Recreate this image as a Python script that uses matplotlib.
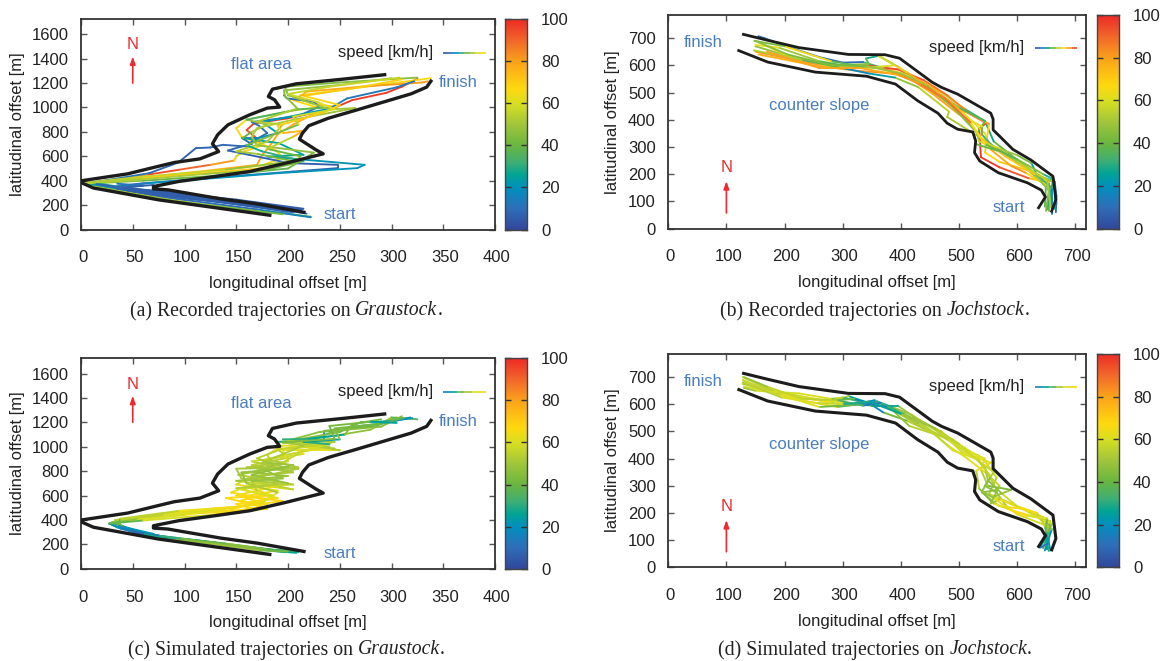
import matplotlib
matplotlib.use("Agg")
import matplotlib.pyplot as plt
import numpy as np
from matplotlib.collections import LineCollection
from matplotlib.colors import LinearSegmentedColormap, Normalize
from matplotlib.transforms import ScaledTranslation

plt.rcParams['font.family'] = ['Liberation Sans', 'DejaVu Sans']

W, H = 1166, 661
DARK = '#333333'
TXT = '#222222'
BLUE = '#4A7DC0'
RED = '#EE2A30'

speed_stops = [(0, '#33479B'), (.10, '#2F6FB7'), (.20, '#0090BE'), (.26, '#00A595'), (.32, '#3FAF75'),
               (.40, '#6BB640'), (.50, '#A2C63A'), (.60, '#D9DF22'), (.67, '#FFD90F'), (.80, '#FBA21B'),
               (.90, '#F2672A'), (1.0, '#EE2A26')]

x_ticks_gr = [0, 50, 100, 150, 200, 250, 300, 350, 400]
y_ticks_gr = [0, 200, 400, 600, 800, 1000, 1200, 1400, 1600]
x_ticks_jo = [0, 100, 200, 300, 400, 500, 600, 700]
y_ticks_jo = [0, 100, 200, 300, 400, 500, 600, 700]
cbar_ticks = [0, 20, 40, 60, 80, 100]

# piste borders (x, y)
gr_left = [(295,1270),(253,1232),(208,1194),(185,1150),(181,1090),(187,1063),(192,1003),(180,995),(163,940),(142,858),
           (132,776),(127,702),(133,639),(115,579),(90,549),(70,508),(45,456),(0,399),(0,385),(12,340),(75,243),(184,115)]
gr_right = [(339,1227),(334,1167),(319,1112),(267,981),(239,912),(220,850),(214,790),(211,740),(218,702),(227,653),
            (234,620),(198,544),(163,475),(129,434),(94,393),(70,352),(70,333),(84,325),(135,251),(170,210),(217,139)]
jo_top = [(127,715),(171,692),(225,665),(310,640),(373,639),(398,626),(454,538),(470,519),(498,494),(555,424),
          (559,402),(559,363),(593,291),(624,252),(662,192),(667,106),(659,59)]
jo_bot = [(119,656),(171,612),(253,575),(341,560),(391,531),(429,470),(464,424),(480,387),(498,365),(524,355),
          (529,322),(527,279),(536,248),(568,205),(618,168),(642,141),(649,116),(636,72)]

# recorded trajectories, Graustock (x, y, speed)
a1 = [(212,150,8),(150,232,9),(80,300,10),(30,345,14),(7,382,35),(35,415,70),(65,450,92),(95,490,96),(125,530,85),(148,565,78),(150,600,60),(158,640,55),(175,690,80),(168,760,92),(160,815,95),(167,869,97),(199,910,98),(241,984,98),(262,1060,97),(295,1120,97),(310,1170,98),(325,1235,96)]
a2 = [(222,105,25),(190,140,55),(120,205,64),(75,258,55),(25,335,62),(6,380,45),(45,410,60),(110,465,66),(175,525,68),(195,590,62),(188,650,66),(172,710,68),(155,760,70),(150,830,66),(160,900,64),(205,975,60),(228,1000,68),(205,1060,66),(212,1100,68),(275,1170,66),(338,1240,65)]
a3 = [(210,160,6),(150,240,6),(80,310,6),(25,355,20),(8,385,40),(60,428,72),(120,480,78),(170,530,75),(175,610,82),(182,680,80),(190,780,76),(205,860,78),(225,950,78),(247,1003,70),(222,1035,72),(210,1080,75),(218,1130,76),(270,1170,80),(330,1205,82),(335,1215,80)]
a4 = [(215,170,5),(150,245,5),(80,310,5),(30,350,6),(10,382,10),(40,425,14),(66,462,8),(94,549,7),(111,667,6),(125,672,7),(137,694,8),(160,680,9),(165,720,12),(180,790,10),(172,850,9),(165,880,12),(210,930,10),(230,1006,8),(225,1047,7),(199,1074,9),(196,1100,12)]
a5 = [(218,130,12),(150,225,10),(80,295,7),(25,345,8),(59,378,9),(142,434,10),(205,475,8),(248,503,6),(248,530,5),(201,544,7),(142,647,6),(155,680,9),(165,700,10),(156,746,8),(170,746,14),(190,790,20),(175,880,25),(240,990,20),(257,1074,12),(305,1165,14),(322,1215,10)]
a6 = [(222,100,20),(170,165,12),(75,270,8),(20,340,8),(66,380,20),(191,462,22),(267,503,20),(274,530,18),(180,598,25),(215,612,28),(191,708,25),(156,749,28),(165,800,50),(180,860,55),(160,900,40),(210,985,30),(240,1000,45)]
a7 = [(205,150,8),(150,220,8),(75,285,8),(20,345,30),(6,375,50),(60,400,40),(130,440,40),(200,500,35),(225,630,45),(170,690,48),(165,760,50),(170,830,55),(205,900,50),(265,995,48),(240,985,52),(200,1100,45),(197,1170,40),(250,1205,46),(325,1245,45)]
a8 = [(195,125,40),(100,222,42),(15,350,55),(7,385,50),(50,425,58),(140,490,55),(205,560,40),(170,620,45),(150,640,55),(180,720,50),(195,860,52),(170,883,55),(209,992,50),(197,1095,42),(196,1140,45),(250,1185,50),(300,1240,50)]
a9 = [(200,145,9),(80,295,8),(5,375,40),(60,420,68),(140,475,72),(185,510,70),(205,540,60),(212,600,45),(180,660,35),(205,760,75),(215,810,78),(195,790,72),(190,850,68),(235,960,72),(250,1020,66),(215,1095,70),(265,1160,72),(310,1230,66)]
a10 = [(208,160,30),(100,260,8),(40,345,10),(12,385,50),(50,405,55),(120,455,50),(180,490,48),(215,560,32),(175,640,30),(160,690,25),(210,860,60),(205,925,52),(245,985,65),(230,1040,60),(200,1110,55),(240,1170,58),(308,1245,55)]
a11 = [(214,165,6),(175,205,5),(130,255,5),(85,300,6),(50,330,6),(20,365,7)]
a12 = [(210,155,7),(170,200,6),(125,245,7),(80,290,6),(45,335,7),(15,372,9)]
a13 = [(205,140,8),(160,200,10),(110,255,9),(70,285,8),(35,335,8),(60,360,10),(35,375,12)]
a14 = [(200,155,6),(150,215,7),(105,262,6),(70,300,5),(40,345,6),(70,365,8)]
a15 = [(208,148,6),(165,190,5),(125,232,6),(90,270,7),(60,305,5)]
a16 = [(212,160,5),(180,190,7),(140,225,5),(105,250,7),(75,280,6),(45,320,6)]
rec_gr = [a1, a2, a3, a4, a5, a6, a7, a8, a9, a10, a11, a12, a13, a14, a15, a16]

# recorded trajectories, Jochstock
b1 = [(667,60,8),(668,120,8),(665,170,12),(640,190,45),(590,270,50),(560,320,30),(545,395,25),(510,440,40),(470,500,70),(420,560,80),(370,590,60),(335,612,8),(300,610,10),(260,630,10),(210,665,12),(165,700,10),(155,707,6)]
b2 = [(660,70,15),(655,170,60),(620,185,90),(570,225,95),(538,262,98),(535,368,97),(547,387,92),(520,420,85),(480,490,85),(440,545,90),(395,585,95),(340,600,96),(300,590,85),(240,610,82),(150,650,80)]
b3 = [(655,65,25),(655,170,58),(625,210,70),(570,245,72),(545,280,60),(552,385,78),(510,430,80),(470,490,82),(430,545,80),(385,570,85),(325,580,80),(250,600,78),(155,640,76)]
b4 = [(652,70,30),(662,175,30),(635,195,26),(625,240,28),(600,270,55),(560,300,42),(530,345,50),(545,395,30),(500,445,40),(450,510,55),(395,595,40),(362,635,28),(340,625,28),(345,605,48),(290,600,45),(220,625,46),(150,670,48)]
b5 = [(648,80,22),(650,160,55),(615,205,80),(590,230,85),(555,290,72),(545,350,55),(505,430,72),(460,505,78),(410,575,78),(362,635,62),(390,600,55),(338,590,65),(270,600,62),(200,640,64),(155,685,62)]
b6 = [(650,65,35),(655,140,50),(640,175,42),(605,240,60),(575,280,45),(530,310,35),(525,350,48),(480,410,55),(483,430,50),(430,520,60),(390,555,35),(345,570,14),(300,590,20),(230,620,55),(147,655,50)]
b7 = [(660,55,10),(660,150,25),(640,185,40),(590,260,42),(555,310,30),(540,345,35),(540,375,45),(500,420,80),(455,495,80),(410,560,70),(360,590,60),(300,600,30),(260,615,45),(190,665,55),(150,675,70)]
b8 = [(665,70,8),(665,170,45),(630,200,55),(580,265,88),(540,330,60),(520,380,78),(490,450,85),(450,510,90),(420,545,90),(370,590,85),(335,595,20),(280,615,55),(200,670,75),(148,690,12)]
b9 = [(658,80,40),(652,180,62),(600,245,48),(570,295,55),(535,320,62),(530,355,45),(490,445,45),(445,525,45),(400,570,52),(340,598,45),(280,600,42),(205,640,45),(150,690,45)]
b10 = [(668,90,6),(664,180,10),(645,200,50),(600,255,40),(565,290,35),(545,310,45),(520,390,88),(475,480,88),(435,530,85),(395,565,78),(330,590,78),(260,590,80),(170,650,80)]
rec_jo = [b1, b2, b3, b4, b5, b6, b7, b8, b9, b10]

# simulated trajectories, Graustock
c1 = [(205,140,10),(190,150,25),(150,195,50),(110,235,45),(70,265,30),(50,300,8),(35,340,25),(28,372,30),(40,405,50),(90,460,62),(130,495,66),(180,530,68),(155,590,66),(190,640,66),(150,690,60),(165,760,55),(205,790,50),(165,850,52),(200,910,58),(190,980,50),(225,1000,60),(245,1040,50),(205,1045,50),(245,1090,45),(280,1140,48),(300,1240,50),(325,1225,22)]
c2 = [(198,135,8),(175,165,45),(130,215,42),(85,255,20),(55,305,6),(40,350,35),(32,385,45),(70,430,60),(140,470,64),(180,570,68),(145,625,66),(165,690,58),(205,650,58),(155,740,52),(150,820,50),(210,830,52),(180,900,52),(205,945,58),(240,1000,56),(200,1030,45),(225,1070,12),(240,1110,42),(270,1170,40),(295,1195,8),(318,1240,30)]
c3 = [(200,145,22),(160,175,48),(120,225,35),(75,270,12),(50,310,10),(30,365,22),(45,395,55),(100,440,64),(145,500,66),(195,555,68),(150,600,68),(190,680,60),(150,720,52),(200,760,45),(165,790,52),(185,850,48),(180,935,60),(195,1010,68),(245,985,55),(190,1040,50),(235,1060,8),(235,1130,38),(285,1170,42),(305,1240,40)]
c4 = [(210,135,14),(165,170,52),(125,215,48),(80,262,30),(45,320,12),(38,360,40),(35,395,50),(85,450,62),(135,465,66),(180,490,62),(155,560,66),(180,615,68),(160,670,58),(205,690,56),(152,770,50),(190,830,50),(165,880,56),(215,940,60),(205,990,68),(235,1020,50),(210,1060,48),(250,1120,42),(270,1200,38),(300,1210,12),(320,1235,28)]
c5 = [(195,140,30),(170,160,55),(130,200,52),(90,245,38),(60,290,10),(42,335,30),(30,380,35),(55,410,58),(110,470,66),(170,480,64),(150,530,68),(190,580,66),(155,650,60),(190,700,54),(160,730,48),(210,820,52),(160,830,50),(200,880,54),(195,970,68),(250,970,56),(200,1050,48),(230,1120,45),(290,1165,44),(310,1250,45)]
c6 = [(203,150,18),(180,155,50),(140,205,45),(100,240,30),(65,280,6),(38,330,18),(27,370,25),(60,395,52),(125,440,66),(175,510,68),(140,580,66),(185,600,66),(170,640,58),(165,720,50),(195,740,46),(175,820,50),(195,870,50),(215,970,62),(235,1010,56),(195,1060,55),(220,1065,6),(255,1100,44),(262,1185,45),(290,1225,40)]
c7 = [(208,130,12),(185,145,40),(140,195,44),(95,250,42),(75,270,22),(52,295,5),(70,285,8),(40,345,35),(33,400,50),(80,440,58),(135,485,62),(175,540,66),(190,625,55),(160,700,48),(155,790,46),(200,820,50),(170,905,50),(195,985,58),(240,1020,54),(215,1040,5),(250,1060,44),(245,1150,46),(290,1190,38),(312,1235,35)]
c8 = [(200,140,35),(172,150,48),(125,205,50),(85,240,44),(60,285,12),(48,315,6),(35,355,30),(38,410,48),(95,475,62),(150,505,66),(185,590,64),(150,660,56),(200,700,50),(165,770,46),(205,850,48),(175,870,50),(215,1010,55),(195,1035,48),(245,1065,38),(240,1170,44),(280,1205,40),(305,1195,10)]
sim_gr = [c1, c2, c3, c4, c5, c6, c7, c8]

# simulated trajectories, Jochstock
d1 = [(650,68,8),(655,100,25),(657,170,50),(625,200,66),(590,235,64),(552,270,48),(565,330,55),(545,390,60),(510,440,62),(470,490,58),(420,560,50),(385,590,45),(360,610,8),(330,600,20),(290,590,55),(240,610,66),(190,640,55),(130,685,50)]
d2 = [(640,75,10),(650,110,40),(650,165,52),(610,215,68),(570,225,62),(540,275,45),(565,285,48),(550,345,58),(535,395,62),(490,430,58),(455,495,56),(410,540,52),(370,570,30),(345,605,5),(310,630,45),(280,605,60),(210,635,68),(130,665,52)]
d3 = [(655,60,14),(648,125,45),(655,150,52),(600,195,66),(580,230,60),(565,275,42),(545,300,48),(560,350,56),(520,415,60),(490,470,58),(440,510,54),(390,575,50),(355,615,16),(320,598,25),(260,590,58),(200,630,62),(128,700,48)]
d4 = [(648,62,6),(660,140,35),(645,185,58),(605,220,68),(560,260,55),(590,285,42),(550,300,44),(538,360,60),(545,400,62),(500,445,58),(470,500,56),(425,550,50),(395,595,48),(350,595,6),(300,605,58),(240,625,64),(180,650,52),(128,675,50)]
d5 = [(645,70,20),(655,135,42),(640,180,62),(590,210,66),(560,235,60),(557,240,42),(535,290,46),(530,355,62),(555,385,62),(505,425,60),(480,475,56),(415,520,52),(380,590,42),(340,605,10),(300,625,52),(260,615,60),(190,635,64),(128,690,50)]
d6 = [(652,66,12),(650,115,38),(660,160,48),(620,205,68),(570,250,58),(555,235,44),(570,300,50),(545,350,62),(515,400,62),(480,450,58),(440,525,54),(395,575,50),(365,605,12),(335,595,14),(280,620,55),(225,640,66),(150,650,52),(130,660,48)]
d7 = [(640,72,4),(655,90,18),(648,150,48),(635,200,64),(600,225,66),(575,270,50),(550,320,44),(545,370,58),(500,455,56),(460,510,52),(405,565,44),(375,590,22),(350,600,4),(320,620,30),(290,615,48),(230,620,62),(170,665,50),(130,700,46)]
d8 = [(658,62,16),(650,130,30),(652,180,55),(615,190,66),(585,215,68),(560,255,54),(540,280,40),(555,335,52),(530,400,60),(480,470,56),(430,530,52),(400,565,46),(345,610,6),(300,600,52),(255,605,62),(195,625,60),(128,680,48)]
sim_jo = [d1, d2, d3, d4, d5, d6, d7, d8]

# legend key speeds
key_a = [5, 10, 20, 30, 40, 50, 60, 65]
key_b = [5, 15, 25, 40, 55, 65, 80, 95]
key_c = [15, 25, 40, 50, 60, 65]
key_d = [15, 25, 35, 50, 60, 65]

captions = [("(a) Recorded trajectories on ", "Graustock", "."),
            ("(b) Recorded trajectories on ", "Jochstock", "."),
            ("(c) Simulated trajectories on ", "Graustock", "."),
            ("(d) Simulated trajectories on ", "Jochstock", ".")]

cmap = LinearSegmentedColormap.from_list('speed', speed_stops)
norm = Normalize(0, 100)

fig = plt.figure(figsize=(W / 100, H / 100), dpi=100)
FS = 12
CAP_FS = 14.2


def box(l, t, r, b):
    return [l / W, 1 - b / H, (r - l) / W, (b - t) / H]


def draw_colored(ax, tracks, lw=1.35):
    for tr in tracks:
        arr = np.array(tr, float)
        pts = arr[:, :2]
        segs = np.stack([pts[:-1], pts[1:]], axis=1)
        lc = LineCollection(segs, colors=cmap(norm((arr[:-1, 2] + arr[1:, 2]) / 2)), linewidths=lw,
                            capstyle='round', joinstyle='round')
        ax.add_collection(lc)


def panel(rect, cbar_rect, xlim, ylim, xticks, yticks, borders, border_lw, tracks, key, key_x, key_y, texts, north, cap, cap_y, ylab_x):
    ax = fig.add_axes(box(*rect))
    ax.set_xlim(*xlim)
    ax.set_ylim(*ylim)
    ax.set_xticks(xticks)
    ax.set_yticks(yticks)
    ax.tick_params(which='both', direction='in', top=True, right=True, length=4, width=1, color='#555555',
                   labelsize=FS, labelcolor=TXT)
    ax.tick_params(axis='x', pad=15)
    ax.tick_params(axis='y', pad=9)
    off = ScaledTranslation(2 / 100, 0, fig.dpi_scale_trans)
    for lab in ax.get_xticklabels():
        lab.set_transform(lab.get_transform() + off)
    for s in ax.spines.values():
        s.set_linewidth(1.3)
        s.set_color(DARK)
    draw_colored(ax, tracks)
    for b in borders:
        a = np.array(b, float)
        ax.plot(a[:, 0], a[:, 1], color='#1c1c1c', lw=border_lw, solid_joinstyle='round', solid_capstyle='butt', zorder=5)
    for (tx, ty, s, col, ha) in texts:
        ax.text(tx, ty, s, color=col, fontsize=FS, ha=ha, va='center')
    # key line
    kx = np.linspace(key_x[0], key_x[1], len(key) + 1)
    ksegs = [[(kx[i], key_y), (kx[i + 1], key_y)] for i in range(len(key))]
    ax.add_collection(LineCollection(ksegs, colors=cmap(norm(key)), linewidths=1.2))
    # north arrow
    nx, ntext, nbase, ntip = north
    ax.text(nx, ntext, 'N', color=RED, fontsize=FS, ha='center', va='center')
    ax.annotate('', xy=(nx, ntip), xytext=(nx, nbase),
                arrowprops=dict(arrowstyle='-|>,head_width=0.16,head_length=0.45', color=RED, lw=1.2, shrinkA=0, shrinkB=0))
    ax.set_xlabel('longitudinal offset [m]', fontsize=FS, color=TXT, labelpad=7.5)
    fig.text(ylab_x / W, 1 - (rect[1] + rect[3]) / 2 / H, 'latitudinal offset [m]', rotation=90, fontsize=FS,
             color=TXT, ha='center', va='center')
    # colour bar
    cax = fig.add_axes(box(*cbar_rect))
    grad = np.linspace(0, 100, 256).reshape(-1, 1)
    cax.imshow(grad, aspect='auto', origin='lower', cmap=cmap, norm=norm, extent=[0, 1, 0, 100])
    cax.set_xticks([])
    cax.set_yticks(cbar_ticks)
    cax.yaxis.tick_right()
    cax.tick_params(axis='y', direction='in', left=True, right=True, length=4, width=1, color='#333333',
                    labelsize=FS, labelcolor=TXT, pad=10.5)
    for s in cax.spines.values():
        s.set_linewidth(1.0)
        s.set_color('#444444')
    # caption: roman and italic runs placed one after the other
    cx = (rect[0] + rect[2]) / 2 - 2
    r = fig.canvas.get_renderer()
    t1 = fig.text(0, 0, cap[0], family='Liberation Serif', fontsize=CAP_FS, color=TXT)
    t2 = fig.text(0, 0, cap[1], family='Liberation Serif', style='italic', fontsize=CAP_FS, color=TXT)
    t3 = fig.text(0, 0, cap[2], family='Liberation Serif', fontsize=CAP_FS, color=TXT)
    ws = t1.get_window_extent(r).width
    w2 = t2.get_window_extent(r).width
    w3 = t3.get_window_extent(r).width
    total = ws + w2 + w3
    x0 = cx - total / 2
    for t, xp in [(t1, x0), (t2, x0 + ws), (t3, x0 + ws + w2)]:
        t.set_position((xp / W, 1 - cap_y / H))
        t.set_va('center')
    return ax


gx, gy = (0, 400), (0, 1725)
jx, jy = (0, 718), (0, 785)
gr_texts = [(174.5, 1355, 'flat area', BLUE, 'center'), (364.5, 1207, 'finish', BLUE, 'center'),
            (250, 125, 'start', BLUE, 'center'), (340, 1450, 'speed [km/h]', TXT, 'right')]
jo_texts = [(60, 685, 'finish', BLUE, 'center'), (260.5, 451, 'counter slope', BLUE, 'center'),
            (586.5, 78, 'start', BLUE, 'center'), (612, 665, 'speed [km/h]', TXT, 'right')]

panel((81, 19, 495, 229.5), (505, 19, 526.5, 229.5), gx, gy, x_ticks_gr, y_ticks_gr, [gr_left, gr_right], 2.4, rec_gr,
      key_a, (350, 391), 1445, gr_texts, (50, 1513, 1200, 1418), captions[0], 311, 18)
panel((668.3, 15, 1085.5, 228.5), (1097, 15, 1118.5, 228.5), jx, jy, x_ticks_jo, y_ticks_jo, [jo_top, jo_bot], 2.0, rec_jo,
      key_b, (630.6, 703), 662, jo_texts, (100, 223, 57, 174), captions[1], 311, 612)
panel((81, 358.3, 495, 568.7), (505, 358.3, 526.5, 568.7), gx, gy, x_ticks_gr, y_ticks_gr, [gr_left, gr_right], 2.4, sim_gr,
      key_c, (350, 391), 1445, gr_texts, (50, 1513, 1200, 1418), captions[2], 650, 18)
panel((668.3, 354, 1085.5, 567.3), (1097, 354, 1118.5, 567.3), jx, jy, x_ticks_jo, y_ticks_jo, [jo_top, jo_bot], 2.2, sim_jo,
      key_d, (630.6, 703), 662, jo_texts, (100, 223, 57, 174), captions[3], 650, 612)

fig.savefig('out.png', dpi=100)
